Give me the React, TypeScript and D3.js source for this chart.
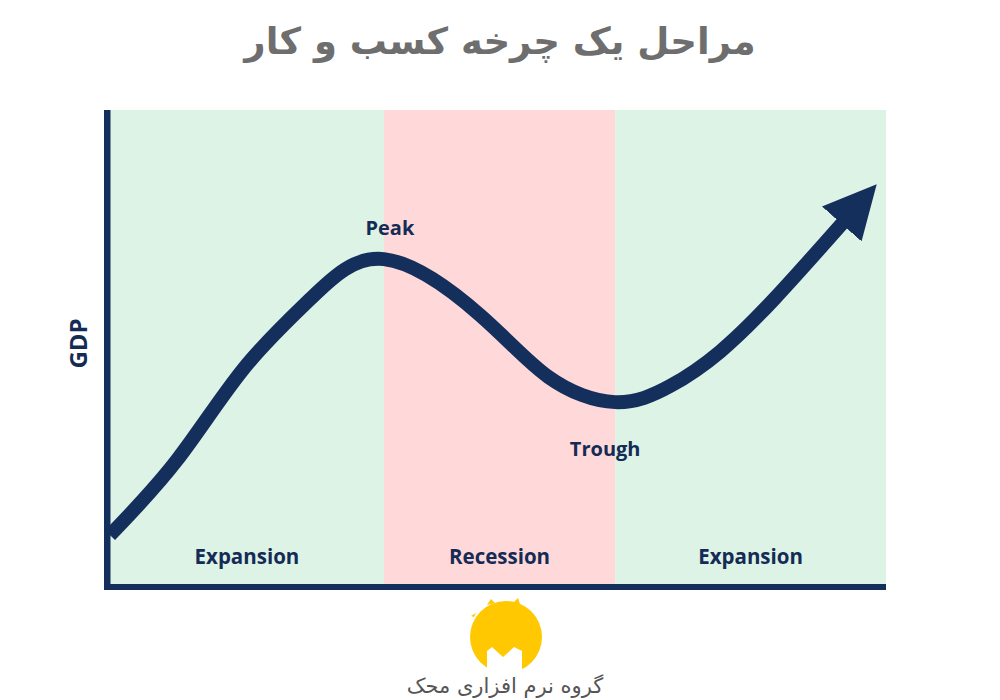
import React from "react";
import * as d3 from "d3";

const WIDTH = 1000;
const HEIGHT = 700;

// Business-cycle phases along the time axis (index 0–100)
const phaseNames = ["Expansion", "Recession", "Expansion"];
const phaseStart = [0, 35.3, 65.1];
const phaseEnd = [35.3, 65.1, 100];

// GDP path over time (index units)
const timeIndex = [0, 8.63, 17.1, 25.8, 35.3, 47.7, 56.5, 65.1, 72.2, 78.6, 85.7, 94.5];
const gdpIndex = [10.5, 26.3, 45.3, 60.2, 68.6, 56.8, 43.8, 38.5, 41.9, 49.1, 60.4, 76.4];

// Turning points
const turningLabels = ["Peak", "Trough"];
const turningTime = [35.3, 65.1];
const turningGdp = [68.6, 38.5];

const titleText = "مراحل یک چرخه کسب و کار";
const brandText = "گروه نرم افزاری محک";
const yAxisLabel = "GDP";

const NAVY = "#142f5c";
const TEXT_NAVY = "#152b55";
const phaseFill: Record<string, string> = { Expansion: "#dcf3e5", Recession: "#ffd9d9" };
const labelOffset: Record<string, [number, number]> = { Peak: [6, -24], Trough: [-10, 54] };

export default function App() {
  const plot = { left: 110, right: 886, top: 110, bottom: 585 };
  const x = d3.scaleLinear().domain([0, 100]).range([plot.left, plot.right]);
  const y = d3.scaleLinear().domain([0, 100]).range([plot.bottom, plot.top]);

  const pts: [number, number][] = timeIndex.map((t, i) => [t, gdpIndex[i]]);
  const line = d3
    .line<[number, number]>()
    .x((d) => x(d[0]))
    .y((d) => y(d[1]))
    .curve(d3.curveNatural);

  const labelFont = "'Open Sans', 'Noto Sans', sans-serif";

  return (
    <svg
      width={WIDTH}
      height={HEIGHT}
      style={{ position: "absolute", left: 0, top: 0, background: "#fff" }}
    >
      <defs>
        <marker
          id="arrowhead"
          markerUnits="userSpaceOnUse"
          markerWidth={60}
          markerHeight={60}
          viewBox="0 -25 50 50"
          refX={2}
          refY={0}
          orient="auto"
        >
          <path d="M0,-22L44,0L0,22Z" fill={NAVY} />
        </marker>
      </defs>

      {/* title */}
      <text
        x={500}
        y={54}
        textAnchor="middle"
        fontFamily="'DejaVu Sans', sans-serif"
        fontWeight="bold"
        fontSize={37}
        fill="#6e6e6e"
        direction="rtl"
      >
        {titleText}
      </text>

      {/* phase bands */}
      {phaseNames.map((name, i) => (
        <rect
          key={`band-${i}`}
          x={x(phaseStart[i])}
          y={plot.top}
          width={x(phaseEnd[i]) - x(phaseStart[i])}
          height={plot.bottom - plot.top}
          fill={phaseFill[name]}
        />
      ))}

      {/* phase names */}
      {phaseNames.map((name, i) => (
        <text
          key={`phase-${i}`}
          x={(x(phaseStart[i]) + x(phaseEnd[i])) / 2}
          y={564}
          textAnchor="middle"
          fontFamily={labelFont}
          fontWeight="bold"
          fontSize={20.5}
          fill={TEXT_NAVY}
        >
          {name}
        </text>
      ))}

      {/* GDP path */}
      <path
        d={line(pts) ?? ""}
        fill="none"
        stroke={NAVY}
        strokeWidth={14}
        strokeLinejoin="round"
        markerEnd="url(#arrowhead)"
      />

      {/* turning point labels */}
      {turningLabels.map((lab, i) => (
        <text
          key={lab}
          x={x(turningTime[i]) + labelOffset[lab][0]}
          y={y(turningGdp[i]) + labelOffset[lab][1]}
          textAnchor="middle"
          fontFamily={labelFont}
          fontWeight="bold"
          fontSize={20}
          fill={TEXT_NAVY}
        >
          {lab}
        </text>
      ))}

      {/* axes */}
      <rect x={104} y={plot.top} width={6.5} height={plot.bottom + 5 - plot.top} fill={NAVY} />
      <rect x={104} y={plot.bottom - 1} width={plot.right - 104} height={6} fill={NAVY} />

      {/* y-axis title */}
      <text
        transform={`translate(87, ${(plot.top + plot.bottom) / 2 - 4}) rotate(-90)`}
        textAnchor="middle"
        fontFamily={labelFont}
        fontWeight="bold"
        fontSize={24}
        fill={TEXT_NAVY}
      >
        {yAxisLabel}
      </text>

      {/* brand mark */}
      <g>
        <circle cx={506} cy={637} r={36} fill="#ffc800" />
        <path d="M487,605 L491,599 L495,603 Z" fill="#ffc800" />
        <path d="M513,603 L518,598 L520,604 Z" fill="#ffc800" />
        <path d="M474,617 L471,616 L476,613 Z" fill="#ffc800" />
        <path
          d="M487,676 L487,651 L492,647 L503,657 L514,647 L522,651 L522,676 Z"
          fill="#fff"
        />
        <text
          x={505}
          y={693}
          textAnchor="middle"
          fontFamily="'DejaVu Sans', sans-serif"
          fontSize={21}
          fill="#555"
          direction="rtl"
        >
          {brandText}
        </text>
      </g>
    </svg>
  );
}
